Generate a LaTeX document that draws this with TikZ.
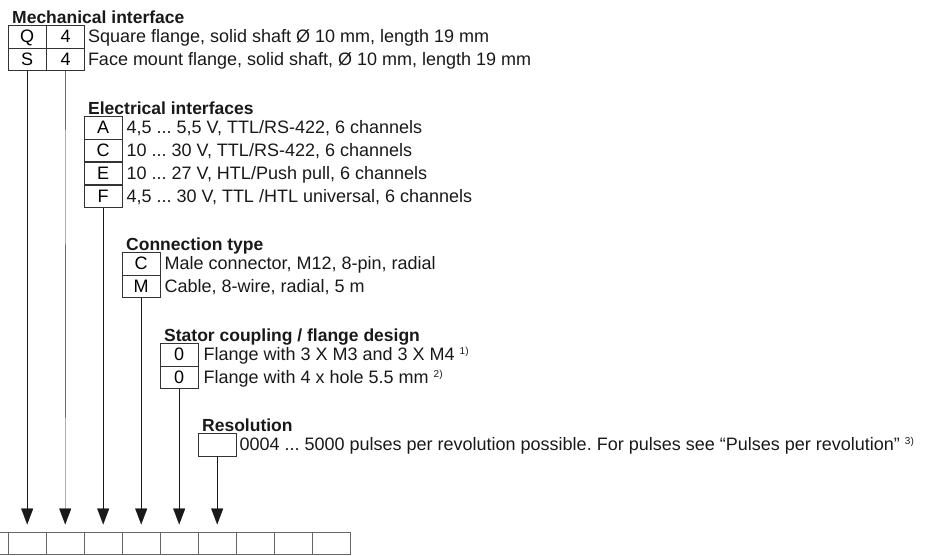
\documentclass[tikz,border=0pt]{standalone}
\usepackage{fontspec}
\setmainfont{Liberation Sans}
\usetikzlibrary{arrows.meta,positioning}
\frenchspacing
\newcommand{\codefont}{\fontsize{18}{21}\selectfont}
\newcommand{\codenote}[1]{\ \raisebox{6pt}{\fontsize{10}{10}\selectfont #1}}
\tikzset{
  codecell/.style={draw=black!80,minimum width=38pt,minimum height=22.5pt,inner sep=0pt,anchor=north west,
    font=\codefont,text height=13pt,text depth=0pt},
  codetext/.style={anchor=west,inner sep=0pt,font=\codefont,text height=13pt,text depth=0pt,text=black!90},
  codehead/.style={anchor=base west,inner sep=0pt,font=\fontsize{17.5}{21}\selectfont\bfseries,text=black!90},
  codeflow/.style={-{Triangle[length=16pt,width=12pt]},black!90,shorten >=7pt},
  stripcell/.style={draw=black!60,minimum width=38pt,minimum height=22.5pt,inner sep=0pt,anchor=north west},
}

\begin{document}
\begin{tikzpicture}[x=1pt,y=-1pt]
\useasboundingbox (0,0) rectangle (937,555);
% mechanical interface
\node[codehead] (mechhd) at (12,23) {Mechanical interface};
\node[codecell] (mechq) at (8,25) {Q};
\node[codecell,right=0pt of mechq] (mechqn) {4};
\node[codecell,below=0pt of mechq] (mechs) {S};
\node[codecell,right=0pt of mechs] (mechsn) {4};
\node[codetext,right=3pt of mechqn] (mechqt) {Square flange, solid shaft Ø 10 mm, length 19 mm};
\node[codetext,right=3pt of mechsn] (mechst) {Face mount flange, solid shaft, Ø 10 mm, length 19 mm};
% electrical interfaces
\node[codehead] (elhd) at (88,114) {Electrical interfaces};
\node[codecell] (ela) at (84,116) {A};
\node[codecell,below=0pt of ela] (elc) {C};
\node[codecell,below=0pt of elc] (ele) {E};
\node[codecell,below=0pt of ele] (elf) {F};
\node[codetext,right=4pt of ela] (elat) {4,5 ... 5,5 V, TTL/RS-422, 6 channels};
\node[codetext,right=4pt of elc] (elct) {10 ... 30 V, TTL/RS-422, 6 channels};
\node[codetext,right=4pt of ele] (elet) {10 ... 27 V, HTL/Push pull, 6 channels};
\node[codetext,right=4pt of elf] (elft) {4,5 ... 30 V, TTL /HTL universal, 6 channels};
% connection type
\node[codehead] (conhd) at (126,250) {Connection type};
\node[codecell] (conc) at (122,252) {C};
\node[codecell,below=0pt of conc] (conm) {M};
\node[codetext,right=4pt of conc] (conct) {Male connector, M12, 8-pin, radial};
\node[codetext,right=4pt of conm] (conmt) {Cable, 8-wire, radial, 5 m};
% stator coupling
\node[codehead] (stathd) at (164,341) {Stator coupling / flange design};
\node[codecell] (stata) at (160,343) {0};
\node[codecell,below=0pt of stata] (statb) {0};
\node[codetext,right=5pt of stata] (statat) {Flange with 3 X M3 and 3 X M4\codenote{1)}};
\node[codetext,right=5pt of statb] (statbt) {Flange with 4 x hole 5.5 mm\codenote{2)}};
% resolution
\node[codehead] (reshd) at (202,431) {Resolution};
\node[codecell] (res) at (198,433) {};
\node[codetext,right=3pt of res] (rest) {0004 ... 5000 pulses per revolution possible. For pulses see “Pulses per revolution”\codenote{3)}};
% type code strip
\begin{scope}
\clip (0,0) rectangle (937,555);
\foreach \i in {0,...,9}
  \node[stripcell] (c\i) at ({8+38*(\i-1)},531.5) {};
\end{scope}
\draw[codeflow] (mechs.south) -- (c1.north);
\draw[codeflow] (mechsn.south) -- (c2.north);
\draw[codeflow] (elf.south) -- (c3.north);
\draw[codeflow] (conm.south) -- (c4.north);
\draw[codeflow] (statb.south) -- (c5.north);
\draw[codeflow] (res.south) -- (c6.north);
\end{tikzpicture}
\end{document}
